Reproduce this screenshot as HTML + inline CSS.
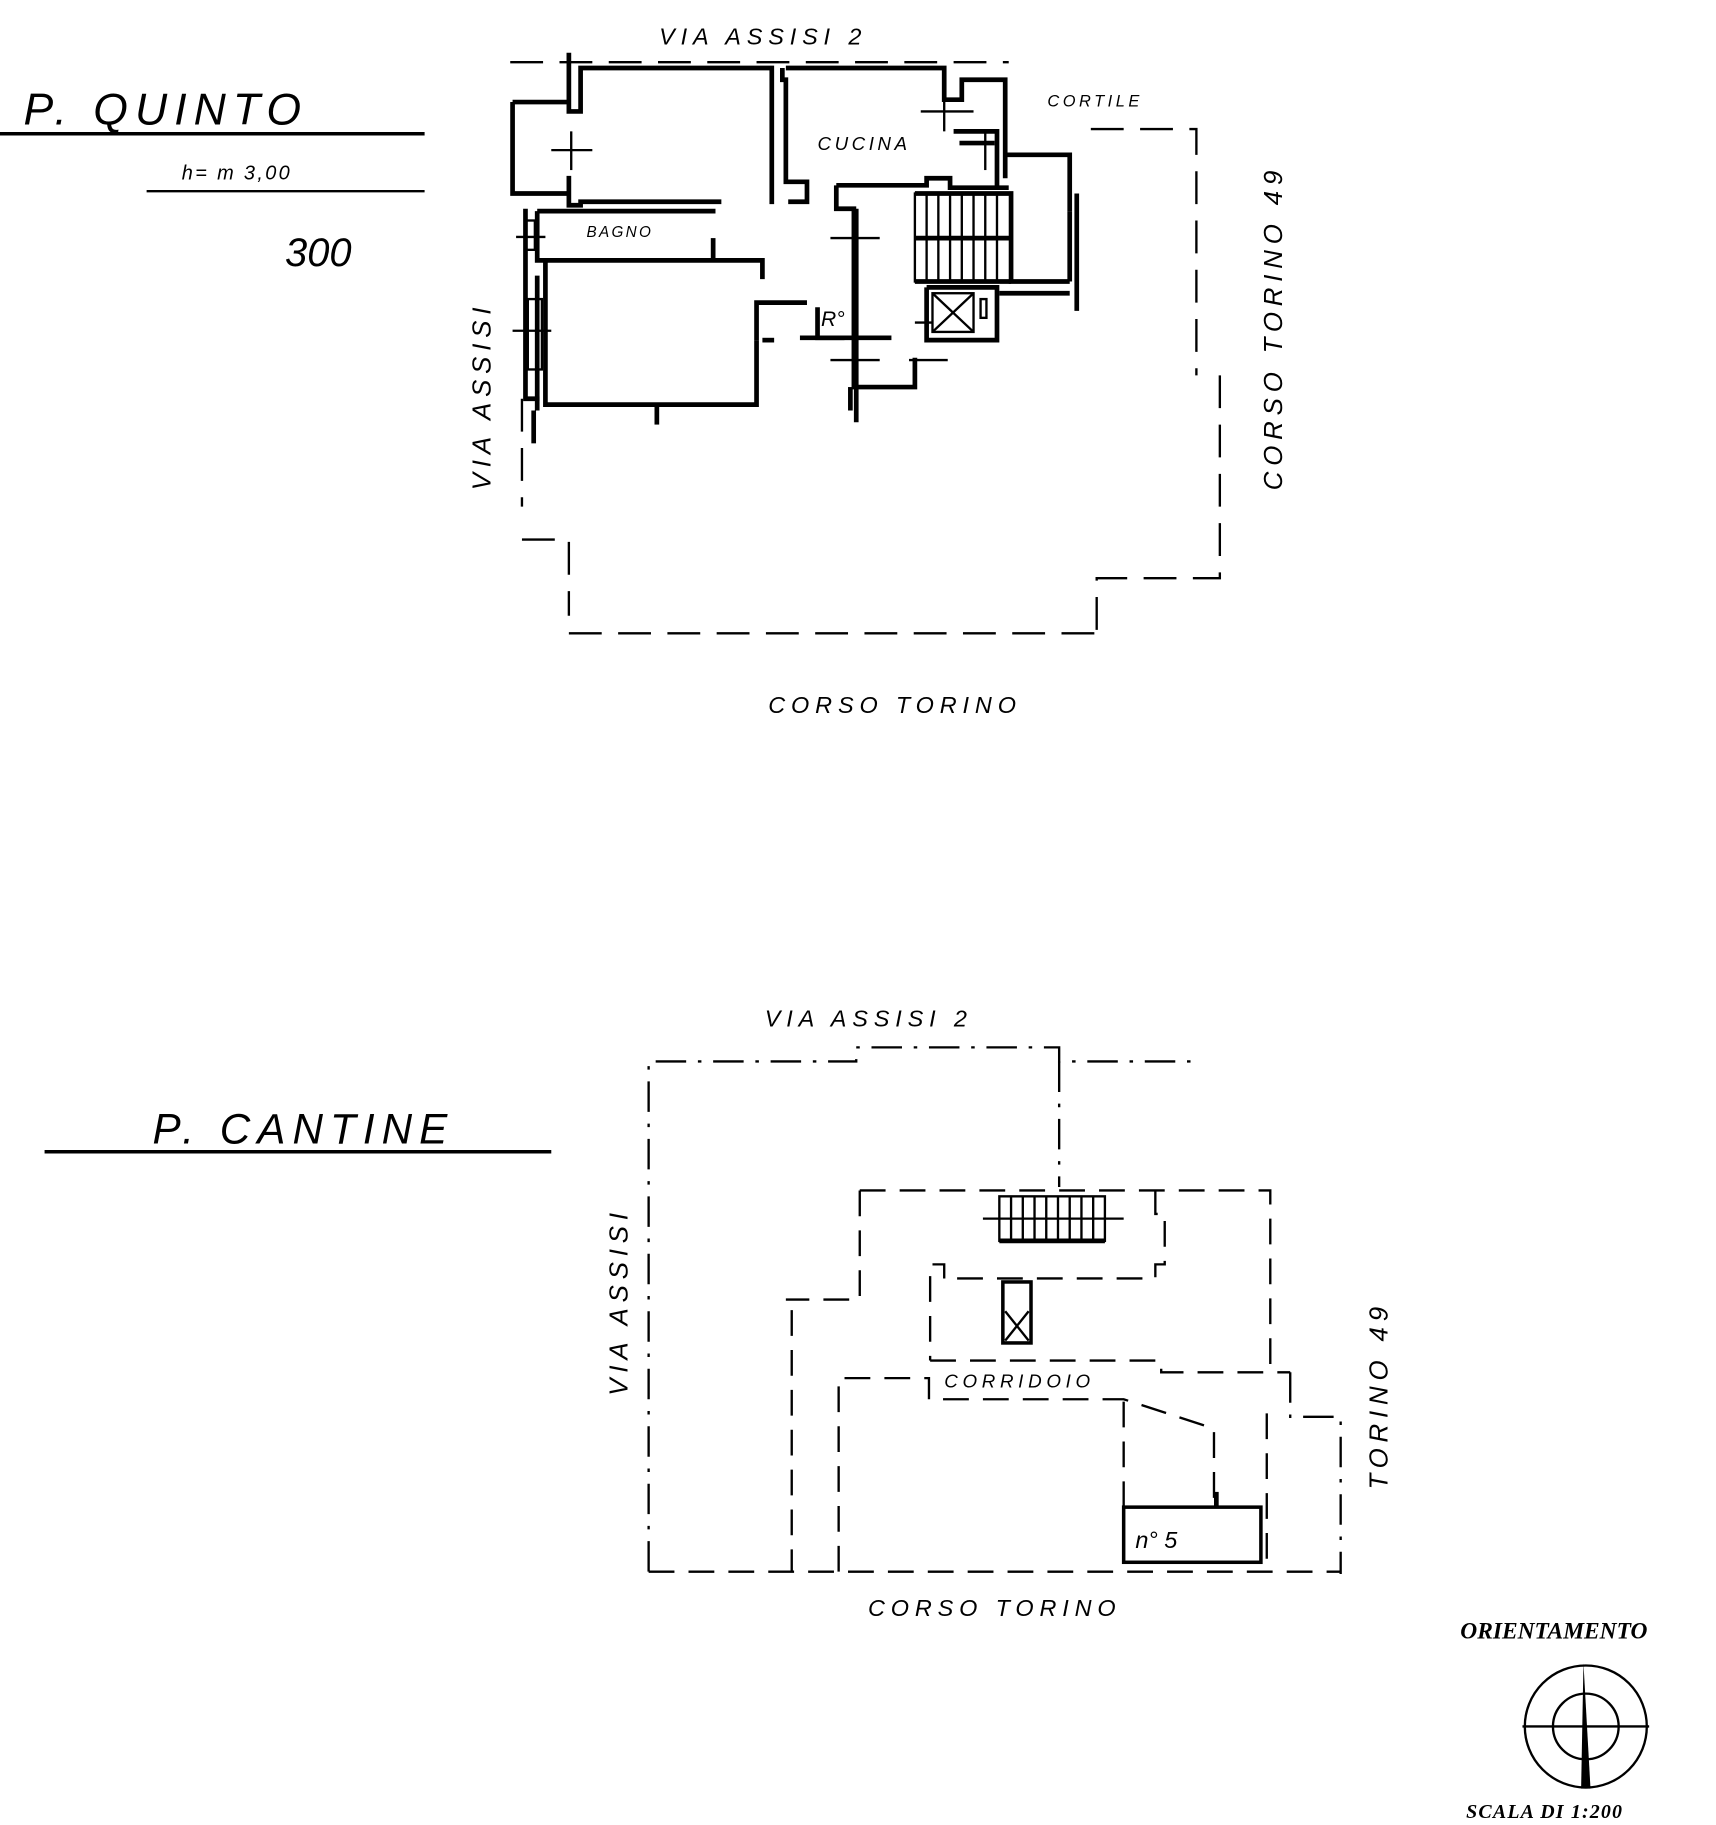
<!DOCTYPE html>
<html><head><style>
html,body{margin:0;padding:0;background:#fff;}
svg{display:block;}
text{font-family:"Liberation Sans",sans-serif;font-style:italic;fill:#000;}
</style></head><body>
<svg width="1716" height="1825" viewBox="0 0 1463 1556" preserveAspectRatio="none" xmlns="http://www.w3.org/2000/svg">
<rect width="1463" height="1556" fill="#fff"/>
<text x="20" y="106" font-size="38" letter-spacing="6">P. QUINTO</text>
<line x1="0" y1="114" x2="362" y2="114" stroke="#000" stroke-width="3"/>
<text x="155" y="153" font-size="17" letter-spacing="2">h= m 3,00</text>
<line x1="125" y1="163" x2="362" y2="163" stroke="#000" stroke-width="2"/>
<text x="243" y="227" font-size="34" font-style="normal">300</text>
<text x="130" y="975" font-size="36" letter-spacing="6">P. CANTINE</text>
<line x1="38" y1="982" x2="470" y2="982" stroke="#000" stroke-width="3"/>

<text x="562" y="38" font-size="20" letter-spacing="5">VIA ASSISI 2</text>
<text x="893" y="91" font-size="14" letter-spacing="3">CORTILE</text>
<text x="697" y="128" font-size="16" letter-spacing="3">CUCINA</text>
<text x="500" y="202" font-size="13" letter-spacing="2">BAGNO</text>
<text x="700" y="278" font-size="18">R°</text>
<text x="655" y="608" font-size="20" letter-spacing="5">CORSO TORINO</text>
<text transform="translate(418,418) rotate(-90)" font-size="22" letter-spacing="5">VIA ASSISI</text>
<text transform="translate(1093,418) rotate(-90)" font-size="22" letter-spacing="5">CORSO TORINO 49</text>

<g fill="none" stroke="#000">
<g stroke-width="2" stroke-dasharray="28,14">
<polyline points="435,53 860,53"/>
<polyline points="930,110 1020,110 1020,320"/>
<polyline points="1040,320 1040,493 935,493 935,540"/>
<polyline points="485,540 937,540"/>
<polyline points="445,340 445,432"/>
<polyline points="445,460 485,460 485,525"/>
</g>
<g stroke-width="4">
<polyline points="485,45 485,95 495,95 495,58 658,58 658,172 660,172"/>
<polyline points="437,87 485,87"/>
<polyline points="437,87 437,165 485,165"/>
<polyline points="485,150 485,175 495,175 495,172 615,172"/>
<polyline points="667,58 667,68 670,68 670,155 688,155 688,172 672,172"/>
<polyline points="670,58 805,58 805,85 820,85 820,68 857,68 857,152"/>
<polyline points="813,112 850,112 850,160"/>
<polyline points="818,122 848,122"/>
<polyline points="448,178 448,340 460,340"/>
<polyline points="458,180 610,180"/>
<polyline points="458,180 458,222 650,222 650,238"/>
<polyline points="465,222 465,345 645,345 645,290"/>
<polyline points="458,235 458,350"/>
<polyline points="645,290 645,258 688,258"/>
<polyline points="697,262 697,288 760,288"/>
<polyline points="650,290 660,290"/>
<polyline points="682,288 720,288"/>
<polyline points="713,158 713,178 728,178 728,330 780,330 780,305"/>
<polyline points="713,158 790,158 790,152 810,152 810,160 860,160"/>
<polyline points="730,178 730,360"/>
<polyline points="780,165 862,165 862,240 912,240"/>
<polyline points="780,240 862,240"/>
<polyline points="790,245 850,245 850,290 790,290 790,245"/>
<polyline points="858,132 912,132 912,180"/>
<polyline points="912,180 912,240"/>
<polyline points="918,165 918,265"/>
<polyline points="852,250 912,250"/>
<line x1="560" y1="345" x2="560" y2="362"/>
<line x1="608" y1="203" x2="608" y2="222"/>
<line x1="725" y1="330" x2="725" y2="350"/>
<line x1="455" y1="350" x2="455" y2="378"/>
</g>
<g stroke-width="2">
<rect x="780" y="165" width="82" height="75"/>
<line x1="790" y1="165" x2="790" y2="240"/><line x1="800" y1="165" x2="800" y2="240"/>
<line x1="810" y1="165" x2="810" y2="240"/><line x1="820" y1="165" x2="820" y2="240"/>
<line x1="830" y1="165" x2="830" y2="240"/><line x1="840" y1="165" x2="840" y2="240"/>
<line x1="850" y1="165" x2="850" y2="240"/>
<line x1="780" y1="203" x2="862" y2="203" stroke-width="4"/>
<rect x="795" y="250" width="35" height="33"/>
<line x1="795" y1="250" x2="830" y2="283"/><line x1="830" y1="250" x2="795" y2="283"/>
<rect x="836" y="255" width="5" height="16"/>
<line x1="470" y1="128" x2="505" y2="128"/><line x1="487" y1="112" x2="487" y2="145"/>
<line x1="440" y1="202" x2="465" y2="202"/>
<line x1="437" y1="282" x2="470" y2="282"/>
<line x1="785" y1="95" x2="830" y2="95"/><line x1="805" y1="80" x2="805" y2="112"/>
<line x1="840" y1="112" x2="840" y2="145"/>
<line x1="708" y1="203" x2="750" y2="203"/>
<line x1="708" y1="307" x2="750" y2="307"/>
<line x1="775" y1="307" x2="808" y2="307"/>
<line x1="780" y1="275" x2="795" y2="275"/>
<rect x="450" y="255" width="12" height="60"/>
<rect x="448" y="188" width="8" height="25"/>
</g>

<g stroke-width="2" stroke-dasharray="26,10,3,10">
<polyline points="553,1340 553,905 730,905 730,893 903,893 903,905 1020,905"/>
<polyline points="1100,1170 1100,1208 1143,1208 1143,1342"/>
<polyline points="903,905 903,1012"/>
</g>
<g stroke-width="2" stroke-dasharray="22,12">
<polyline points="553,1340 1143,1340"/>
<polyline points="733,1015 1083,1015 1083,1170"/>
<polyline points="733,1015 733,1108 670,1108 675,1108 675,1340"/>
<polyline points="985,1015 985,1035 993,1035 993,1078 985,1078 985,1090 805,1090"/>
<polyline points="805,1090 805,1078 793,1078 793,1160"/>
<polyline points="793,1160 990,1160 990,1170 1100,1170"/>
<polyline points="715,1340 715,1175 792,1175 792,1193 958,1193 1035,1218 1035,1280"/>
<polyline points="958,1195 958,1330"/>
<polyline points="1080,1205 1080,1340"/>
</g>
<g stroke-width="2">
<rect x="852" y="1020" width="90" height="38"/>
<line x1="862" y1="1020" x2="862" y2="1058"/><line x1="872" y1="1020" x2="872" y2="1058"/>
<line x1="882" y1="1020" x2="882" y2="1058"/><line x1="892" y1="1020" x2="892" y2="1058"/>
<line x1="902" y1="1020" x2="902" y2="1058"/><line x1="912" y1="1020" x2="912" y2="1058"/>
<line x1="922" y1="1020" x2="922" y2="1058"/><line x1="932" y1="1020" x2="932" y2="1058"/>
<line x1="838" y1="1039" x2="958" y2="1039"/>
<line x1="852" y1="1058" x2="942" y2="1058" stroke-width="4"/>
<rect x="855" y="1093" width="24" height="52" stroke-width="3"/>
<line x1="857" y1="1118" x2="877" y2="1143"/><line x1="877" y1="1118" x2="857" y2="1143"/>
<rect x="958" y="1285" width="117" height="47" stroke-width="3"/>
<line x1="1037" y1="1272" x2="1037" y2="1285" stroke-width="4"/>
</g>
</g>
<text x="652" y="875" font-size="20" letter-spacing="5">VIA ASSISI 2</text>
<text x="805" y="1183" font-size="16" letter-spacing="4">CORRIDOIO</text>
<text x="968" y="1320" font-size="20">n° 5</text>
<text x="740" y="1378" font-size="20" letter-spacing="5">CORSO TORINO</text>
<text transform="translate(535,1190) rotate(-90)" font-size="22" letter-spacing="5">VIA ASSISI</text>
<text transform="translate(1183,1270) rotate(-90)" font-size="22" letter-spacing="5">TORINO 49</text>

<text x="1245" y="1397" font-family="Liberation Serif" font-size="20" font-weight="bold" style="font-family:'Liberation Serif',serif">ORIENTAMENTO</text>
<g fill="none" stroke="#000" stroke-width="2">
<circle cx="1352" cy="1472" r="52"/>
<circle cx="1352" cy="1472" r="28"/>
<line x1="1298" y1="1472" x2="1406" y2="1472"/>
</g>
<polygon points="1350,1418 1356,1525 1348,1525" fill="#000"/>
<text x="1250" y="1550" font-size="17" font-weight="bold" style="font-family:'Liberation Serif',serif" letter-spacing="1">SCALA DI 1:200</text>
</svg>
</body></html>
